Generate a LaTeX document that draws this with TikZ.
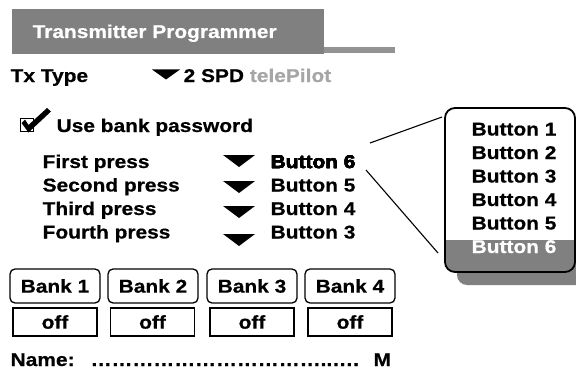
\documentclass[tikz,border=0pt]{standalone}
\usepackage{fontspec}
\setmainfont{Liberation Sans}[FakeStretch=1.13, BoldFeatures={FakeBold=0.6}]

\definecolor{bargray}{HTML}{808080}
\definecolor{softgray}{HTML}{A6A6A6}

\newcommand{\droptip}[3]{\fill (#1) ++(-#2 / 2, -#3 / 2) -- ++(#2, 0) -- ++(-#2 / 2, #3) -- cycle;}

\begin{document}
\begin{tikzpicture}[x = 1pt, y = -1pt, line width = 1.3pt,
                    txt/.style = {anchor = base west, inner sep = 0pt, font = \fontsize{18.5}{20}\selectfont\bfseries},
                    bank/.style = {draw, rounded corners = 5pt, minimum width = 90pt, minimum height = 34pt,
                                   inner sep = 0pt, font = \fontsize{18.5}{20}\selectfont\bfseries},
                    offbox/.style = {draw, minimum width = 84pt, minimum height = 28pt,
                                     inner sep = 0pt, font = \fontsize{18.5}{20}\selectfont\bfseries}]
  \useasboundingbox (0, 0) rectangle (576, 369);
  % title tab
  \fill [bargray] (12, 9) rectangle (324, 54);
  \fill [bargray!85] (324, 47) rectangle (395, 53);
  \node [txt, text = white] (title) at (32, 38) {Transmitter Programmer};
  % transmitter type
  \node [txt] (txtype) at (10, 82) {Tx Type};
  \coordinate (txpick) at (166, 74.5);
  \droptip{txpick}{28}{10}
  \node [txt] (spd) at (183, 82) {2 SPD \textcolor{softgray}{telePilot}};
  % password check box
  \node [draw, line width = 1.2pt, minimum size = 13pt, inner sep = 0pt] (chk) at (27, 125) {};
  \fill (21.5, 123) -- (25, 119.5) -- (28.5, 125) -- (47, 108) -- (51, 111.5) -- (28.5, 132.5) -- cycle;
  \node [txt] (usepw) at (56, 132) {Use bank password};
  % press rows
  \node [txt] (p1) at (42, 168) {First press};
  \node [txt] (p2) at (42, 191.5) {Second press};
  \node [txt] (p3) at (42, 215) {Third press};
  \node [txt] (p4) at (42, 238.5) {Fourth press};
  \coordinate (d1) at (239, 161);
  \coordinate (d2) at (239, 187);
  \coordinate (d3) at (239, 212);
  \coordinate (d4) at (239, 240);
  \foreach \d in {d1, d2, d3, d4}
    \droptip{\d}{32}{12}
  \node [txt] (b1) at (270, 168) {Button 6};
  \node [txt] (b2) at (270, 191.5) {Button 5};
  \node [txt] (b3) at (270, 215) {Button 4};
  \node [txt] (b4) at (270, 238.5) {Button 3};
  % drop down list
  \fill [bargray, rounded corners = 10pt] (457, 121) rectangle (590, 285);
  \fill [white, rounded corners = 10pt] (445, 108) rectangle (575, 272);
  \begin{scope}
    \clip [rounded corners = 10pt] (445, 108) rectangle (575, 272);
    \fill [bargray] (445, 240) rectangle (575, 272);
  \end{scope}
  \node [draw, line width = 1.8pt, rounded corners = 10pt, minimum width = 130pt, minimum height = 164pt] (menu) at (510, 190) {};
  \foreach \k in {1, ..., 5}
    \node [txt] (m\k) at (471, 112 + 23.5 * \k) {Button \k};
  \node [txt, text = white] (m6) at (471, 253) {Button 6};
  \coordinate (b1top) at (370, 143);
  \coordinate (b1low) at (366, 170);
  \coordinate (menutop) at (442, 117);
  \coordinate (menulow) at (438, 253);
  \draw [line width = 1.1pt] (b1top) -- (menutop);
  \draw [line width = 1.1pt] (b1low) -- (menulow);
  % banks
  \node [bank] (k1) at (55, 286) {Bank 1};
  \node [bank] (k2) at (153, 286) {Bank 2};
  \node [bank] (k3) at (252, 286) {Bank 3};
  \node [bank] (k4) at (350, 286) {Bank 4};
  \node [offbox] (o1) at (55, 322) {off};
  \node [offbox] (o2) at (152.5, 322) {off};
  \node [offbox] (o3) at (252, 322) {off};
  \node [offbox] (o4) at (350, 322) {off};
  % name line
  \node [txt] (name) at (10, 366) {Name:};
  \node [txt] (dots) at (90, 366) {……………………………..….};
  \node [txt] (mark) at (373, 366) {M};
\end{tikzpicture}
\end{document}
